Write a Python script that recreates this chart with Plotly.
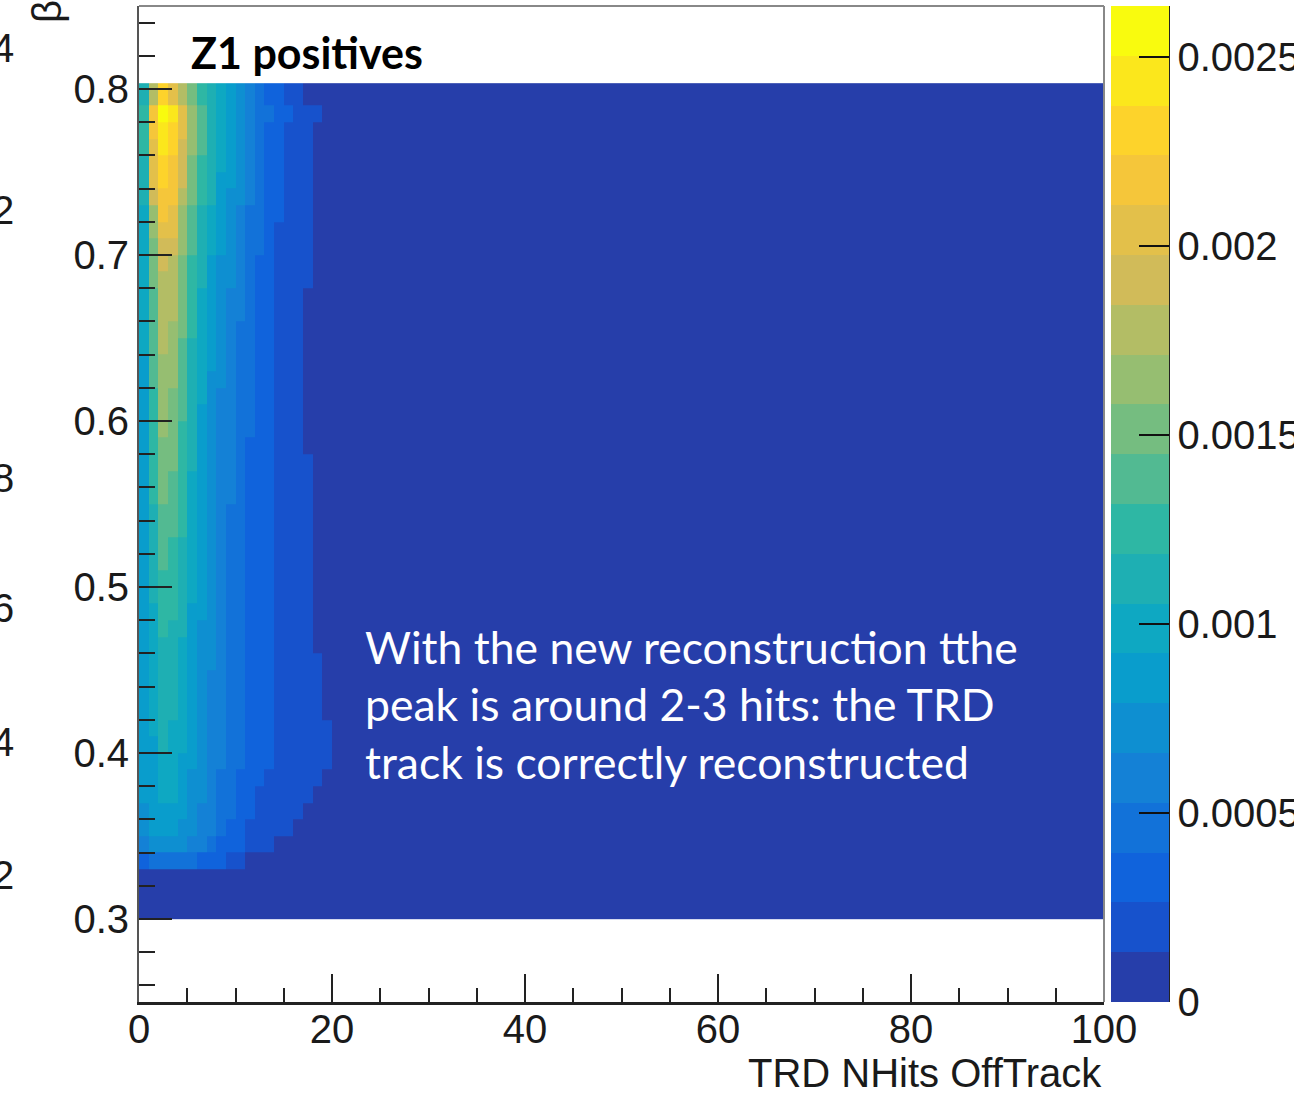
import plotly.graph_objects as go

# ---------------- data ----------------
X_EDGES = list(range(0, 101))                       # TRD NHits OffTrack bin edges
# beta bin edges: 0.30 .. 0.79 in 0.01 steps, the filled area reaches ~0.8035 at the top
Y_EDGES = [round(0.30 + 0.01 * i, 2) for i in range(50)] + [0.8035]

Z_MAX = 0.002636          # top of the colour axis
N_BANDS = 20              # number of colour contours

# Bin contents read from the picture as colour band index (0 = lowest band),
# rows listed from the top (beta 0.79-0.80) down to the bottom (beta 0.30-0.31),
# columns from x = 0 upward; unlisted columns are in the lowest band.
BAND_ROWS_TOP_DOWN = [
    [8, 13, 17, 15, 13, 11, 9, 8, 7, 6, 5, 4, 3, 2, 2, 1, 1],
    [9, 16, 19, 18, 15, 12, 10, 8, 7, 6, 5, 4, 3, 3, 2, 2, 1, 1, 1],
    [9, 16, 18, 17, 15, 12, 10, 8, 7, 6, 5, 4, 3, 2, 2, 1, 1, 1],
    [9, 15, 18, 17, 14, 12, 10, 8, 7, 6, 5, 4, 3, 2, 2, 1, 1, 1],
    [8, 15, 17, 16, 14, 11, 9, 8, 7, 6, 5, 4, 3, 2, 2, 1, 1, 1],
    [8, 15, 17, 16, 14, 11, 9, 8, 6, 6, 5, 4, 3, 2, 2, 1, 1, 1],
    [8, 14, 16, 16, 13, 11, 9, 8, 6, 5, 5, 4, 3, 2, 2, 1, 1, 1],
    [7, 12, 16, 15, 12, 10, 8, 7, 6, 5, 4, 3, 3, 2, 2, 1, 1, 1],
    [7, 12, 15, 15, 12, 10, 8, 7, 6, 5, 4, 3, 3, 2, 1, 1, 1, 1],
    [7, 11, 14, 14, 12, 10, 8, 7, 6, 5, 4, 3, 3, 2, 1, 1, 1, 1],
    [7, 11, 14, 13, 11, 9, 8, 6, 5, 5, 4, 3, 2, 2, 1, 1, 1, 1],
    [7, 11, 13, 13, 11, 9, 8, 6, 5, 5, 4, 3, 2, 2, 1, 1, 1, 1],
    [7, 10, 13, 13, 11, 9, 7, 6, 5, 4, 4, 3, 2, 2, 1, 1, 1],
    [7, 10, 13, 13, 11, 9, 7, 6, 5, 4, 4, 3, 2, 2, 1, 1, 1],
    [7, 10, 13, 12, 11, 9, 7, 6, 5, 4, 3, 3, 2, 2, 1, 1, 1],
    [7, 10, 13, 12, 10, 8, 7, 6, 5, 4, 3, 3, 2, 2, 1, 1, 1],
    [6, 10, 12, 12, 10, 8, 7, 6, 5, 4, 3, 3, 2, 2, 1, 1, 1],
    [6, 10, 12, 12, 10, 8, 7, 5, 5, 4, 3, 3, 2, 2, 1, 1, 1],
    [6, 9, 12, 11, 10, 8, 7, 5, 4, 4, 3, 3, 2, 2, 1, 1, 1],
    [6, 9, 12, 11, 10, 8, 6, 5, 4, 4, 3, 3, 2, 2, 1, 1, 1],
    [6, 9, 12, 11, 9, 8, 6, 5, 4, 4, 3, 3, 2, 2, 1, 1, 1],
    [6, 9, 11, 11, 9, 8, 6, 5, 4, 4, 3, 2, 2, 2, 1, 1, 1],
    [6, 9, 11, 11, 9, 8, 6, 5, 4, 4, 3, 2, 2, 2, 1, 1, 1, 1],
    [6, 9, 11, 10, 9, 7, 6, 5, 4, 4, 3, 2, 2, 2, 1, 1, 1, 1],
    [6, 9, 11, 10, 9, 7, 6, 5, 4, 4, 3, 2, 2, 2, 1, 1, 1, 1],
    [6, 8, 10, 10, 9, 7, 6, 5, 4, 3, 3, 2, 2, 2, 1, 1, 1, 1],
    [6, 8, 10, 10, 9, 7, 6, 5, 4, 3, 3, 2, 2, 2, 1, 1, 1, 1],
    [6, 8, 10, 9, 8, 7, 6, 5, 4, 3, 3, 2, 2, 2, 1, 1, 1, 1],
    [6, 8, 10, 9, 8, 7, 6, 5, 4, 3, 3, 2, 2, 2, 1, 1, 1, 1],
    [6, 8, 9, 9, 8, 7, 6, 5, 4, 3, 3, 2, 2, 2, 1, 1, 1, 1],
    [6, 8, 9, 9, 8, 7, 6, 5, 4, 3, 3, 2, 2, 2, 1, 1, 1, 1],
    [6, 7, 9, 9, 8, 6, 6, 5, 4, 3, 3, 2, 2, 2, 1, 1, 1, 1],
    [6, 7, 9, 8, 8, 6, 5, 5, 4, 3, 3, 2, 2, 2, 1, 1, 1, 1],
    [6, 7, 8, 8, 7, 6, 5, 5, 4, 3, 3, 2, 2, 2, 1, 1, 1, 1],
    [6, 7, 8, 8, 7, 6, 5, 5, 4, 3, 3, 2, 2, 2, 1, 1, 1, 1, 1],
    [6, 7, 8, 8, 7, 6, 5, 4, 4, 3, 3, 2, 2, 2, 1, 1, 1, 1, 1],
    [6, 7, 8, 8, 7, 6, 5, 4, 4, 3, 3, 2, 2, 2, 1, 1, 1, 1, 1],
    [6, 7, 8, 8, 7, 6, 5, 4, 4, 3, 3, 2, 2, 2, 1, 1, 1, 1, 1],
    [6, 7, 8, 7, 7, 6, 5, 4, 4, 3, 3, 2, 2, 2, 1, 1, 1, 1, 1, 1],
    [6, 6, 8, 7, 7, 6, 5, 4, 4, 3, 3, 2, 2, 2, 1, 1, 1, 1, 1, 1],
    [6, 6, 7, 7, 6, 6, 5, 4, 4, 3, 3, 2, 2, 2, 1, 1, 1, 1, 1, 1],
    [6, 6, 7, 7, 6, 5, 5, 4, 3, 3, 2, 2, 2, 1, 1, 1, 1, 1, 1],
    [6, 6, 7, 7, 6, 5, 5, 4, 3, 3, 2, 2, 1, 1, 1, 1, 1, 1],
    [5, 6, 6, 6, 6, 5, 4, 4, 3, 3, 2, 2, 1, 1, 1, 1, 1],
    [5, 6, 6, 6, 5, 5, 4, 4, 3, 2, 2, 1, 1, 1, 1, 1],
    [4, 5, 5, 5, 5, 4, 4, 3, 2, 2, 2, 1, 1, 1],
    [2, 3, 3, 3, 3, 3, 2, 2, 2, 1, 1],
    [],
    [],
    [],
]

BAND_COLORS = [
    "#263eaa", "#1752cc", "#1063dc", "#1272d9", "#1481d6",
    "#0e8fd1", "#099dcc", "#0ea8c2", "#1eafb3", "#2eb7a4",
    "#52ba92", "#75bd80", "#96be71", "#b3bd65", "#d1bb59",
    "#e3c04a", "#f5c63a", "#fdd32b", "#fbe71c", "#f9fb0e",
]

CBAR_TICKVALS = [0, 0.0005, 0.001, 0.0015, 0.002, 0.0025]
CBAR_TICKTEXT = ["0", "0.0005", "0.001", "0.0015", "0.002", "0.0025"]

TITLE = "Z1 positives"
NOTE_LINES = [
    "With the new reconstruction tthe",
    "peak is around 2-3 hits: the TRD",
    "track is correctly reconstructed",
]
X_TITLE = "TRD NHits OffTrack"
Y_TITLE = "β"
STRAY_LABELS = [("4", 48), ("2", 210), ("8", 478), ("6", 608), ("4", 742), ("2", 875)]

# ---------------- build ----------------
W, H = 1294, 1101
L, R, T, B = 139, 1104, 6, 1002   # plot area in pixels
PW, PH = R - L, B - T

band_w = Z_MAX / N_BANDS
nx = len(X_EDGES) - 1
z = []
for row in reversed(BAND_ROWS_TOP_DOWN):
    full = row + [0] * (nx - len(row))
    z.append([(b + 0.5) * band_w for b in full])

colorscale = []
for i, c in enumerate(BAND_COLORS):
    colorscale.append([i / N_BANDS, c])
    colorscale.append([(i + 1) / N_BANDS, c])


def px_x(p):
    return (p - L) / PW


def px_y(p):
    return (B - p) / PH


AX_FONT = dict(family="Liberation Sans, Arial, sans-serif", size=40, color="#1a1a1a")

fig = go.Figure(
    go.Heatmap(
        x=X_EDGES,
        y=Y_EDGES,
        z=z,
        zmin=0,
        zmax=Z_MAX,
        colorscale=colorscale,
        hoverinfo="skip",
        colorbar=dict(
            x=px_x(1111),
            xanchor="left",
            xpad=0,
            y=0.5,
            yanchor="middle",
            ypad=0,
            len=1,
            lenmode="fraction",
            thickness=58,
            thicknessmode="pixels",
            outlinewidth=0,
            tickmode="array",
            tickvals=CBAR_TICKVALS,
            ticktext=CBAR_TICKTEXT,
            ticks="inside",
            ticklen=30,
            tickwidth=2,
            tickcolor="#111111",
            tickfont=AX_FONT,
        ),
    )
)

fig.update_xaxes(
    range=[0, 100],
    tickmode="linear",
    tick0=0,
    dtick=20,
    ticks="inside",
    ticklen=28,
    tickwidth=2,
    tickcolor="#222222",
    ticklabelstandoff=-10,
    minor=dict(dtick=5, ticks="inside", ticklen=14, tickwidth=2, tickcolor="#222222"),
    showline=True,
    linewidth=3,
    linecolor="#222222",
    showgrid=False,
    zeroline=False,
    tickfont=AX_FONT,
)
fig.update_yaxes(
    range=[0.25, 0.85],
    tickmode="linear",
    tick0=0.3,
    dtick=0.1,
    tickformat=".1f",
    ticks="inside",
    ticklen=33,
    tickwidth=2,
    tickcolor="#222222",
    minor=dict(tick0=0.3, dtick=0.02, ticks="inside", ticklen=16, tickwidth=2, tickcolor="#222222"),
    showline=True,
    linewidth=2,
    linecolor="#555555",
    showgrid=False,
    zeroline=False,
    tickfont=AX_FONT,
)

annotations = [
    dict(x=px_x(189), y=px_y(52), xref="paper", yref="paper", text=f"<b>{TITLE}</b>",
         showarrow=False, xanchor="left", yanchor="middle",
         font=dict(family="Lato, sans-serif", size=43, color="black")),
    dict(x=px_x(1104), y=px_y(1073), xref="paper", yref="paper", text=X_TITLE,
         showarrow=False, xanchor="right", yanchor="middle", font=AX_FONT),
    dict(x=px_x(47), y=px_y(12), xref="paper", yref="paper", text=Y_TITLE,
         showarrow=False, xanchor="center", yanchor="middle", textangle=-90, font=AX_FONT),
]
for i, line in enumerate(NOTE_LINES):
    annotations.append(
        dict(x=px_x(363), y=px_y(646 + 57.5 * i), xref="paper", yref="paper", text=line,
             showarrow=False, xanchor="left", yanchor="middle",
             font=dict(family="Lato, sans-serif", size=44.5, color="white"))
    )
for txt, py in STRAY_LABELS:
    annotations.append(
        dict(x=px_x(16), y=px_y(py), xref="paper", yref="paper", text=txt,
             showarrow=False, xanchor="right", yanchor="middle", font=AX_FONT)
    )

shapes = [
    dict(type="line", xref="paper", yref="paper", x0=0, x1=1, y0=1, y1=1,
         line=dict(color="#888888", width=2), layer="above"),
    dict(type="line", xref="paper", yref="paper", x0=1, x1=1, y0=0, y1=1,
         line=dict(color="#888888", width=2), layer="above"),
    dict(type="line", xref="paper", yref="paper", x0=px_x(1169), x1=px_x(1169), y0=0, y1=1,
         line=dict(color="#222222", width=2), layer="above"),
]

fig.update_layout(
    width=W,
    height=H,
    margin=dict(l=L, r=W - R, t=T, b=H - B, autoexpand=False),
    paper_bgcolor="white",
    plot_bgcolor="white",
    annotations=annotations,
    shapes=shapes,
    showlegend=False,
)

fig.write_html("out.html")
